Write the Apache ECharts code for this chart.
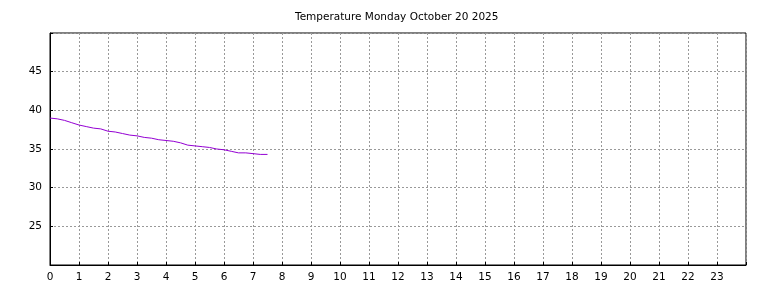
<!DOCTYPE html>
<html><head><meta charset="utf-8">
<script src="https://cdn.jsdelivr.net/npm/echarts@6/dist/echarts.min.js"></script>
<style>html,body{margin:0;padding:0;background:#fff}#c{width:768px;height:288px}</style>
</head><body><div id="c"></div>
<script>
const titleText = "Temperature Monday October 20 2025";
const hours = [0,0.25,0.5,0.75,1,1.25,1.5,1.75,2,2.25,2.5,2.75,3,3.25,3.5,3.75,4,4.25,4.5,4.75,5,5.25,5.5,5.75,6,6.25,6.5,6.75,7,7.25,7.5];
const temps = [39.0,38.9,38.7,38.4,38.1,37.9,37.7,37.6,37.3,37.2,37.0,36.8,36.7,36.5,36.4,36.2,36.1,36.0,35.8,35.5,35.4,35.3,35.2,35.0,34.9,34.7,34.5,34.5,34.4,34.3,34.3];
const yLabels = [25,30,35,40,45];

const chart = echarts.init(document.getElementById('c'), null, {renderer:'canvas'});
const font = 'DejaVu Sans';
chart.setOption({
  animation:false,
  backgroundColor:'#fff',
  title:{text:titleText,left:290,top:7,textStyle:{fontFamily:font,fontSize:10.5,fontWeight:'normal',color:'#000'}},
  grid:{left:50,right:22,top:33,bottom:23,show:true,borderColor:'#000',borderWidth:1,containLabel:false},
  xAxis:{type:'value',min:0,max:24,interval:1,
    axisLine:{show:true,lineStyle:{color:'#000'}},
    axisTick:{show:true,inside:true,length:3,lineStyle:{color:'#000'}},
    axisLabel:{fontFamily:font,fontSize:10.5,color:'#000',margin:7,formatter:v=>v>=24?'':String(v)},
    splitLine:{show:true,lineStyle:{color:'#999',type:[2,2],width:1}}},
  yAxis:{type:'value',min:20,max:50,interval:5,
    axisLine:{show:true,lineStyle:{color:'#000'}},
    axisTick:{show:true,inside:true,length:3,lineStyle:{color:'#000'}},
    axisLabel:{fontFamily:font,fontSize:10.5,color:'#000',margin:8,formatter:v=>yLabels.includes(v)?String(v):''},
    splitLine:{show:true,lineStyle:{color:'#999',type:[2,2],width:1}}},
  series:[{type:'line',data:hours.map((h,i)=>[h,temps[i]]),showSymbol:false,
    lineStyle:{color:'#9400d3',width:1},itemStyle:{color:'#9400d3'}}]
});
</script></body></html>
